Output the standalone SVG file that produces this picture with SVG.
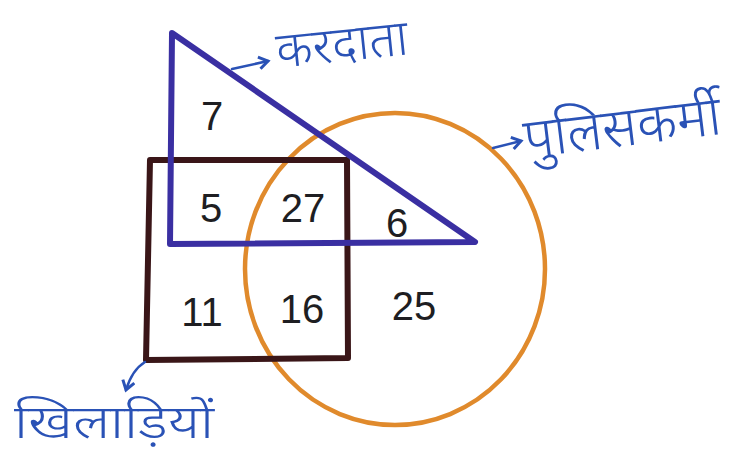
<svg xmlns="http://www.w3.org/2000/svg" width="753" height="459" viewBox="0 0 753 459">
<defs>
<style>
.num{font-family:"Liberation Sans","Noto Sans",sans-serif;font-size:40px;fill:#1e1e22;text-anchor:middle}
.lbl{font-family:"Noto Sans Devanagari","Noto Sans","Lohit Devanagari",sans-serif;font-weight:300;fill:#2a52b6}
.lead{fill:none;stroke:#2a52b6;stroke-width:2.5;stroke-linecap:round}
</style>
<marker id="ah" viewBox="0 0 10 10" refX="8" refY="5" markerWidth="6" markerHeight="6" orient="auto">
<path d="M2,1 L8,5 L2,9" fill="none" stroke="#2a52b6" stroke-width="2"/>
</marker>
</defs>
<rect width="753" height="459" fill="#ffffff"/>
<g id="policemen">
<ellipse cx="395" cy="269" rx="150" ry="156" fill="none" stroke="#e08a2c" stroke-width="4.5"/>
</g>
<g id="players">
<path d="M150,160 L347,160 L348,358 L146,360 Z" fill="none" stroke="#3a1618" stroke-width="6" stroke-linejoin="round"/>
</g>
<g id="taxpayers">
<path d="M172,33 L475,242 L170,244 Z" fill="none" stroke="#3a2fa2" stroke-width="6" stroke-linejoin="round"/>
</g>
<g id="connectors">
<path class="lead" d="M232,69 L268,61" marker-end="url(#ah)"/>
<path class="lead" d="M493,148 L521,141" marker-end="url(#ah)"/>
<path class="lead" d="M145,362 Q132,370 126,390" marker-end="url(#ah)"/>
</g>
<g id="labels">
<text class="lbl" x="278" y="68" font-size="50" transform="rotate(-6 278 68)">करदाता</text>
<text class="lbl" x="526" y="158" font-size="55" transform="rotate(-7 526 158)">पुलिसकर्मी</text>
<text class="lbl" x="14" y="438" font-size="46" textLength="200" lengthAdjust="spacingAndGlyphs">खिलाड़ियों</text>
</g>
<g id="numbers">
<text class="num" x="212" y="130">7</text>
<text class="num" x="211" y="222">5</text>
<text class="num" x="303" y="222">27</text>
<text class="num" x="397" y="237">6</text>
<text class="num" x="202" y="326" font-size="36">11</text>
<text class="num" x="302" y="323">16</text>
<text class="num" x="414" y="320">25</text>
</g>
</svg>
